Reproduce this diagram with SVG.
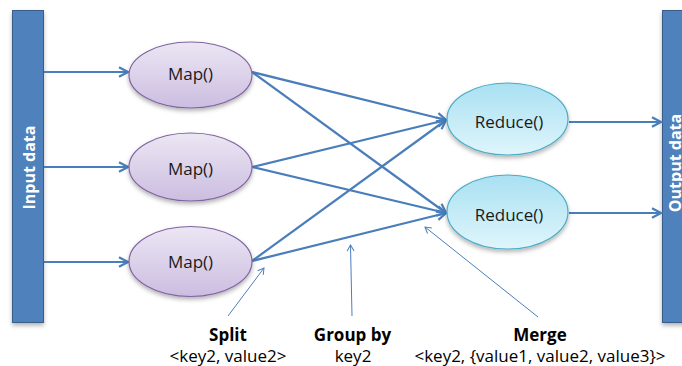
<svg xmlns="http://www.w3.org/2000/svg" width="682" height="366" viewBox="0 0 682 366">
<style>
.bar{fill:#4f81bd;stroke:#385d8a;stroke-width:1}
.bartxt{font-family:"Open Sans","Liberation Sans",sans-serif;font-size:16px;font-weight:bold;fill:#ffffff;text-anchor:middle}
.map{fill:url(#gMap);stroke:#8064a2;stroke-width:1.2}
.red{fill:url(#gRed);stroke:#4bacc6;stroke-width:1.2}
.ntxt{font-family:"Open Sans","Liberation Sans",sans-serif;font-size:17px;fill:#1a1a1a;text-anchor:middle}
.lbl{font-family:"Open Sans","Liberation Sans",sans-serif;font-size:17px;fill:#000;text-anchor:middle}
.b{font-weight:bold}
.conn{stroke:#4a7ebb;stroke-width:2.2;fill:none;marker-end:url(#arr)}
.thin{stroke:#4a7ebb;stroke-width:1;fill:none;marker-end:url(#arrS)}
</style>
<defs>
<linearGradient id="gMap" x1="0" y1="0" x2="0" y2="1">
<stop offset="0" stop-color="#ece6f4"/>
<stop offset="0.5" stop-color="#dcd2ea"/>
<stop offset="1" stop-color="#cbbde0"/>
</linearGradient>
<linearGradient id="gRed" x1="0" y1="0" x2="0" y2="1">
<stop offset="0" stop-color="#a9e0f2"/>
<stop offset="0.5" stop-color="#c4ebf7"/>
<stop offset="1" stop-color="#dff5fb"/>
</linearGradient>
<filter id="sh" x="-20%" y="-20%" width="140%" height="150%">
<feDropShadow dx="0" dy="2.5" stdDeviation="2" flood-color="#000" flood-opacity="0.3"/>
</filter>
<marker id="arr" markerUnits="userSpaceOnUse" viewBox="-12 -7 14 14" markerWidth="14" markerHeight="14" refX="0" refY="0" orient="auto">
<path d="M-9,-4.8 L0,0 L-9,4.8" fill="none" stroke="#4a7ebb" stroke-width="2.2" stroke-linejoin="miter"/>
</marker>
<marker id="arrS" markerUnits="userSpaceOnUse" viewBox="-9 -5 11 10" markerWidth="11" markerHeight="10" refX="0" refY="0" orient="auto">
<path d="M-6,-3.5 L0,0 L-6,3.5" fill="none" stroke="#4a7ebb" stroke-width="1"/>
</marker>
</defs>
<rect width="682" height="366" fill="#ffffff"/>

<g id="input-data">
<rect class="bar" x="12.5" y="10.5" width="31" height="312" filter="url(#sh)"/>
<text class="bartxt" transform="translate(34.5,167.5) rotate(-90)">Input data</text>
</g>
<g id="output-data">
<rect class="bar" x="662.5" y="10.5" width="30" height="312" filter="url(#sh)"/>
<text class="bartxt" transform="translate(680.5,163) rotate(-90)">Output data</text>
</g>

<g id="connectors">
<line class="conn" x1="44" y1="72" x2="128" y2="72"/>
<line class="conn" x1="44" y1="167" x2="128" y2="167"/>
<line class="conn" x1="44" y1="262" x2="128" y2="262"/>
<line class="conn" x1="252" y1="72" x2="446" y2="120"/>
<line class="conn" x1="252" y1="72" x2="446" y2="213"/>
<line class="conn" x1="252" y1="167" x2="446" y2="120"/>
<line class="conn" x1="252" y1="167" x2="446" y2="213"/>
<line class="conn" x1="252" y1="261" x2="446" y2="120"/>
<line class="conn" x1="252" y1="261" x2="446" y2="213"/>
<line class="conn" x1="569" y1="122" x2="661" y2="122"/>
<line class="conn" x1="569" y1="213" x2="661" y2="213"/>
<line class="thin" x1="228" y1="316" x2="264" y2="268"/>
<line class="thin" x1="352" y1="316" x2="350.5" y2="245"/>
<line class="thin" x1="538" y1="317" x2="425" y2="227"/>
</g>

<g id="map1">
<ellipse class="map" cx="190.5" cy="75" rx="61.5" ry="33" filter="url(#sh)"/>
<text class="ntxt" x="190.5" y="80">Map()</text>
</g>
<g id="map2">
<ellipse class="map" cx="190.5" cy="167" rx="61.5" ry="34" filter="url(#sh)"/>
<text class="ntxt" x="190.5" y="175">Map()</text>
</g>
<g id="map3">
<ellipse class="map" cx="190.5" cy="261.5" rx="61.5" ry="35" filter="url(#sh)"/>
<text class="ntxt" x="190.5" y="268">Map()</text>
</g>
<g id="reduce1">
<ellipse class="red" cx="507.5" cy="119" rx="60.5" ry="36" filter="url(#sh)"/>
<text class="ntxt" x="509" y="128">Reduce()</text>
</g>
<g id="reduce2">
<ellipse class="red" cx="507.5" cy="212" rx="60.5" ry="37" filter="url(#sh)"/>
<text class="ntxt" x="509" y="221">Reduce()</text>
</g>

<g id="split-label">
<text class="lbl b" x="228" y="341">Split</text>
<text class="lbl" x="228" y="362">&lt;key2, value2&gt;</text>
</g>
<g id="groupby-label">
<text class="lbl b" x="352.5" y="341">Group by</text>
<text class="lbl" x="353" y="362">key2</text>
</g>
<g id="merge-label">
<text class="lbl b" x="540" y="341">Merge</text>
<text class="lbl" x="540" y="362">&lt;key2, {value1, value2, value3}&gt;</text>
</g>
</svg>
